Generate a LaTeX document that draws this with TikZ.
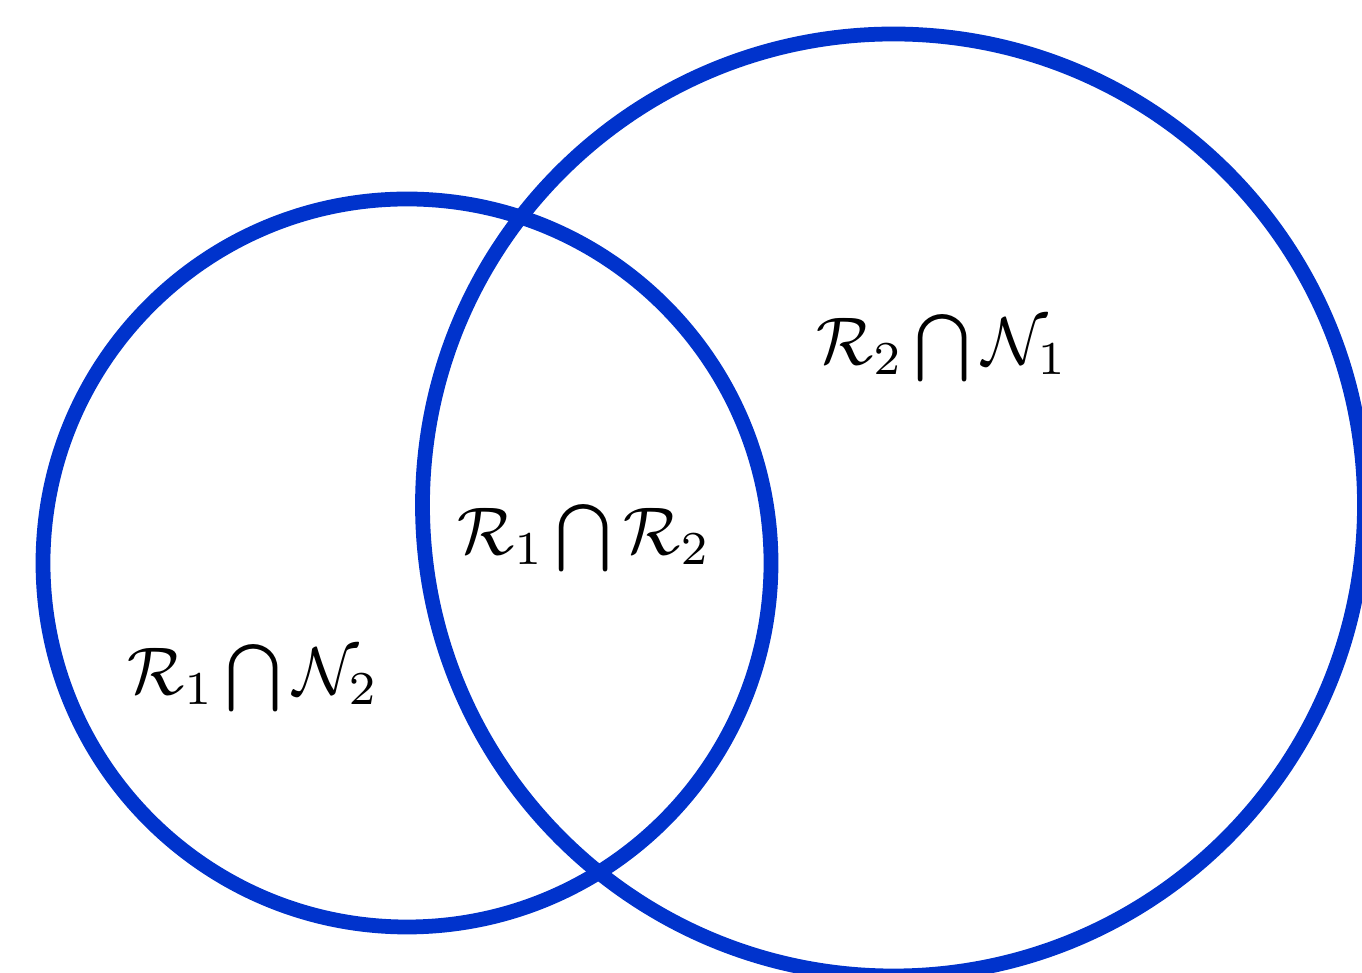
\documentclass[tikz,border=0pt]{standalone}
\usepackage{amsmath,amssymb}
\usepackage{tikz}

\definecolor{setblue}{RGB}{0,51,204}

\begin{document}
\begin{tikzpicture}[every node/.style={scale=1.92}, set/.style={draw=setblue, line width=4.2pt}, lab/.style={inner sep=1pt}]
	\useasboundingbox (0,0) rectangle (13.62,9.73);
	\clip (0,0) rectangle (13.62,9.73);
	\draw[set] (4.07,4.10) circle (3.64);
	\draw[set] (8.935,4.68) circle (4.71);
	\node[lab] (rn12) at (2.53,2.95) {$\mathcal{R}_1\bigcap\mathcal{N}_2$};
	\node[lab] (rr12) at (5.84,4.35) {$\mathcal{R}_1\bigcap\mathcal{R}_2$};
	\node[lab] (rn21) at (9.42,6.25) {$\mathcal{R}_2\bigcap\mathcal{N}_1$};
\end{tikzpicture}
\end{document}
